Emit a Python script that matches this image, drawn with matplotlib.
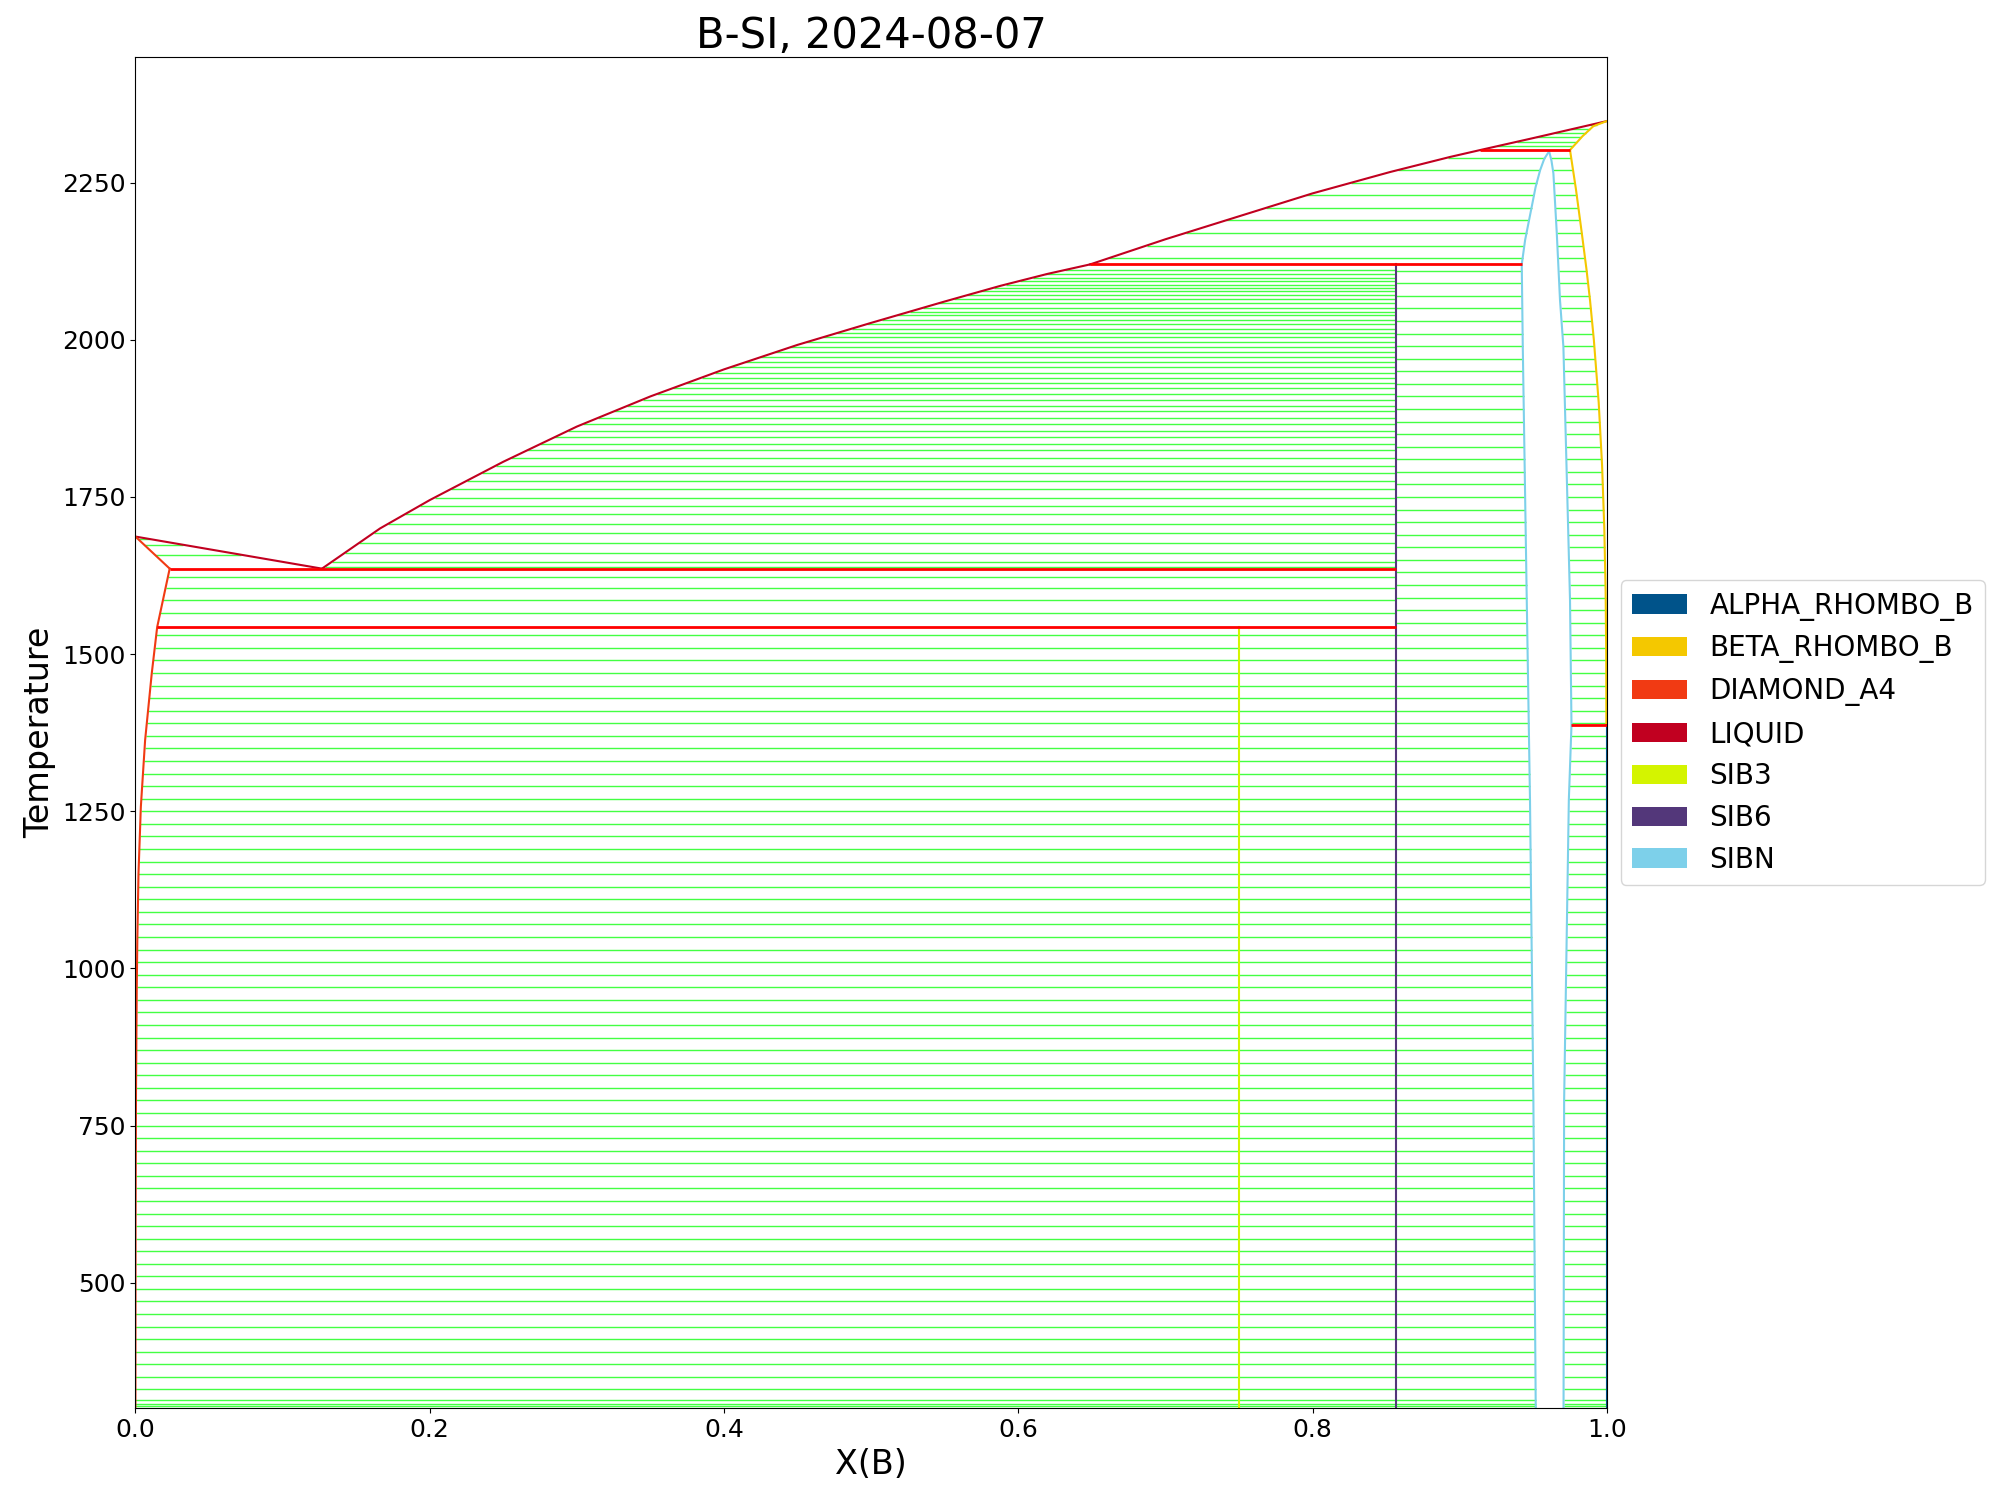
import numpy as np
import matplotlib.pyplot as plt
from matplotlib.patches import Patch

# B-Si binary phase diagram
phases = ['ALPHA_RHOMBO_B', 'BETA_RHOMBO_B', 'DIAMOND_A4', 'LIQUID', 'SIB3', 'SIB6', 'SIBN']
phase_colors = ['#00538a', '#f4c800', '#f13a13', '#c10020', '#d4f400', '#53377a', '#7dd0ea']
col = dict(zip(phases, phase_colors))

# --- phase boundaries (X(B), T) ---
liq_si_x = [0.0, 0.1268]                 # liquidus, Si side
liq_si_T = [1687, 1636]
dia_sol_x = [0.0, 0.0233]                # diamond solidus
dia_sol_T = [1687, 1636]
dia_solv_x = [0.0233, 0.0148, 0.0111, 0.0066, 0.0037, 0.0021, 0.0013, 0.0009, 0.0004, 0.0001, 0.0]
dia_solv_T = [1636, 1543, 1469, 1363, 1257, 1151, 1045, 965, 800, 600, 300]
liq_mid_x = [0.1268, 0.1663, 0.2, 0.25, 0.3, 0.35, 0.4, 0.45, 0.5, 0.55, 0.588, 0.62, 0.6488]
liq_mid_T = [1636, 1700, 1745, 1806, 1862, 1910, 1953, 1992, 2027, 2061, 2086, 2105, 2120]
liq_top_x = [0.6488, 0.7, 0.7383, 0.8, 0.8527, 0.8935, 0.914, 0.95, 1.0]
liq_top_T = [2120, 2160, 2188, 2233, 2267, 2291, 2302, 2321, 2348]
beta_sol_x = [0.975, 0.9835, 0.9909, 1.0]
beta_sol_T = [2302, 2324, 2340, 2348]
beta_solv_x = [0.975, 0.979, 0.983, 0.9862, 0.9886, 0.9912, 0.9945, 0.9968, 0.9983,
               0.9992, 0.9996, 0.9997]
beta_solv_T = [2302, 2240, 2170, 2112, 2063, 2000, 1900, 1800, 1700, 1600, 1500, 1387]
sibn_l_x = [0.9608, 0.9575, 0.9547, 0.9516, 0.949, 0.9445, 0.9422, 0.9429, 0.9456, 0.9478,
            0.9501, 0.9517]
sibn_l_T = [2300, 2288, 2270, 2243, 2212, 2159, 2120, 1989, 1586, 1268, 790, 300]
sibn_r_x = [0.9608, 0.9624, 0.9637, 0.966, 0.9682, 0.9705, 0.975, 0.976, 0.9742, 0.971, 0.9706]
sibn_r_T = [2300, 2285, 2265, 2170, 2063, 1989, 1586, 1387, 1268, 790, 300]
x_sib3 = 0.75
x_sib6 = 0.857
sib3_T = [300, 1543]
sib6_T = [300, 2120]
alpha_T = [300, 1387]

# --- invariant lines ---
inv_T = [1636, 1543, 2120, 2302, 1387]
inv_xl = [0.0233, 0.0148, 0.6488, 0.914, 0.976]
inv_xr = [0.857, 0.857, 0.9422, 0.975, 1.0]

# --- tie-line temperatures ---
grid_T = [303, 307, 314,
          330, 350, 370, 390, 410, 430, 450, 470, 490, 510, 530, 550, 570, 590, 610, 630,
          650, 670, 690, 710, 730, 750, 770, 790, 810, 830, 850, 870, 890, 910, 930, 950,
          970, 990, 1010, 1030, 1050, 1070, 1090, 1110, 1130, 1150, 1170, 1190, 1210, 1230,
          1250, 1270, 1290, 1310, 1330, 1350, 1370, 1390, 1410, 1430, 1450, 1470, 1490, 1510,
          1530, 1550, 1570, 1590, 1610, 1630, 1650, 1670, 1690, 1710, 1730, 1750, 1770, 1790,
          1810, 1830, 1850, 1870, 1890, 1910, 1930, 1950, 1970, 1990, 2010, 2030, 2050, 2070,
          2090, 2110, 2130, 2150, 2170, 2190, 2210, 2230, 2250, 2270, 2290]
liq_dia_T = [1658, 1674, 1683]
dia_sib6_T = [1565, 1586, 1605, 1622]
liq_sib6_T = [1639, 1647, 1661, 1677, 1693, 1707, 1723, 1736, 1749, 1763, 1776, 1788, 1800,
              1812, 1824, 1834, 1845, 1855, 1866, 1876, 1886, 1895, 1905, 1914, 1923, 1931,
              1940, 1948, 1956, 1964, 1972, 1980, 1988, 1996, 2004, 2011, 2018, 2025, 2032,
              2039, 2045, 2051, 2058, 2065, 2071, 2077, 2083, 2088, 2094, 2099, 2104, 2111]
liq_beta_T = [2308, 2315, 2322, 2329, 2335, 2342]


def at(T, xs, Ts):
    Ts = np.asarray(Ts, float)
    xs = np.asarray(xs, float)
    o = np.argsort(Ts)
    return np.interp(T, Ts[o], xs[o])


def sel(lo, hi):
    g = np.asarray(grid_T, float)
    return g[(g > lo) & (g < hi)]


fig = plt.figure(figsize=(20, 15), dpi=100)
ax = fig.add_axes([0.0677, 0.0611, 0.7357, 0.9009])

tie = dict(colors='#22ff22', linewidths=1.0, alpha=0.85, zorder=1)

T = np.asarray(liq_dia_T, float)
ax.hlines(T, at(T, dia_sol_x, dia_sol_T), at(T, liq_si_x, liq_si_T), **tie)
T = np.asarray(liq_sib6_T, float)
ax.hlines(T, at(T, liq_mid_x, liq_mid_T), x_sib6, **tie)
T = np.asarray(dia_sib6_T, float)
ax.hlines(T, at(T, dia_solv_x, dia_solv_T), x_sib6, **tie)
T = sel(300, 1543)
ax.hlines(T, at(T, dia_solv_x, dia_solv_T), x_sib3, **tie)
ax.hlines(T, x_sib3, x_sib6, **tie)
T = sel(300, 2120)
ax.hlines(T, x_sib6, at(T, sibn_l_x, sibn_l_T), **tie)
T = sel(2120, 2302)
ax.hlines(T, at(T, liq_top_x, liq_top_T), at(T, sibn_l_x, sibn_l_T), **tie)
T = sel(1387, 2300)
ax.hlines(T, at(T, sibn_r_x, sibn_r_T), at(T, beta_solv_x, beta_solv_T), **tie)
T = sel(300, 1387)
ax.hlines(T, at(T, sibn_r_x, sibn_r_T), 1.0, **tie)
T = np.asarray(liq_beta_T, float)
ax.hlines(T, at(T, liq_top_x, liq_top_T), at(T, beta_sol_x, beta_sol_T), **tie)

lw = 1.5
ax.plot(liq_si_x, liq_si_T, color=col['LIQUID'], lw=lw, zorder=2)
ax.plot(liq_mid_x, liq_mid_T, color=col['LIQUID'], lw=lw, zorder=2)
ax.plot(liq_top_x, liq_top_T, color=col['LIQUID'], lw=lw, zorder=2)
ax.plot(dia_sol_x, dia_sol_T, color=col['DIAMOND_A4'], lw=lw, zorder=2)
ax.plot(dia_solv_x, dia_solv_T, color=col['DIAMOND_A4'], lw=lw, zorder=2)
ax.plot(beta_sol_x, beta_sol_T, color=col['BETA_RHOMBO_B'], lw=lw, zorder=2)
ax.plot(beta_solv_x, beta_solv_T, color=col['BETA_RHOMBO_B'], lw=lw, zorder=2)
ax.plot(sibn_l_x, sibn_l_T, color=col['SIBN'], lw=lw, zorder=2)
ax.plot(sibn_r_x, sibn_r_T, color=col['SIBN'], lw=lw, zorder=2)
ax.plot([x_sib3, x_sib3], sib3_T, color=col['SIB3'], lw=lw, zorder=2)
ax.plot([x_sib6, x_sib6], sib6_T, color=col['SIB6'], lw=lw, zorder=2)
ax.plot([1.0, 1.0], alpha_T, color=col['ALPHA_RHOMBO_B'], lw=lw, zorder=2)

ax.hlines(inv_T, inv_xl, inv_xr, colors='red', linewidths=2, zorder=3)

ax.set_xlim(0, 1)
ax.set_ylim(300, 2450)
ax.set_yticks([500, 750, 1000, 1250, 1500, 1750, 2000, 2250])
ax.tick_params(labelsize=18)
ax.set_xlabel('X(B)', fontsize=24)
ax.set_ylabel('Temperature', fontsize=24)
ax.set_title('B-SI, 2024-08-07', fontsize=30)

handles = [Patch(facecolor=c, label=p) for p, c in zip(phases, phase_colors)]
ax.legend(handles=handles, loc='center left', bbox_to_anchor=(1, 0.5), fontsize=20)

plt.savefig('out.png')
